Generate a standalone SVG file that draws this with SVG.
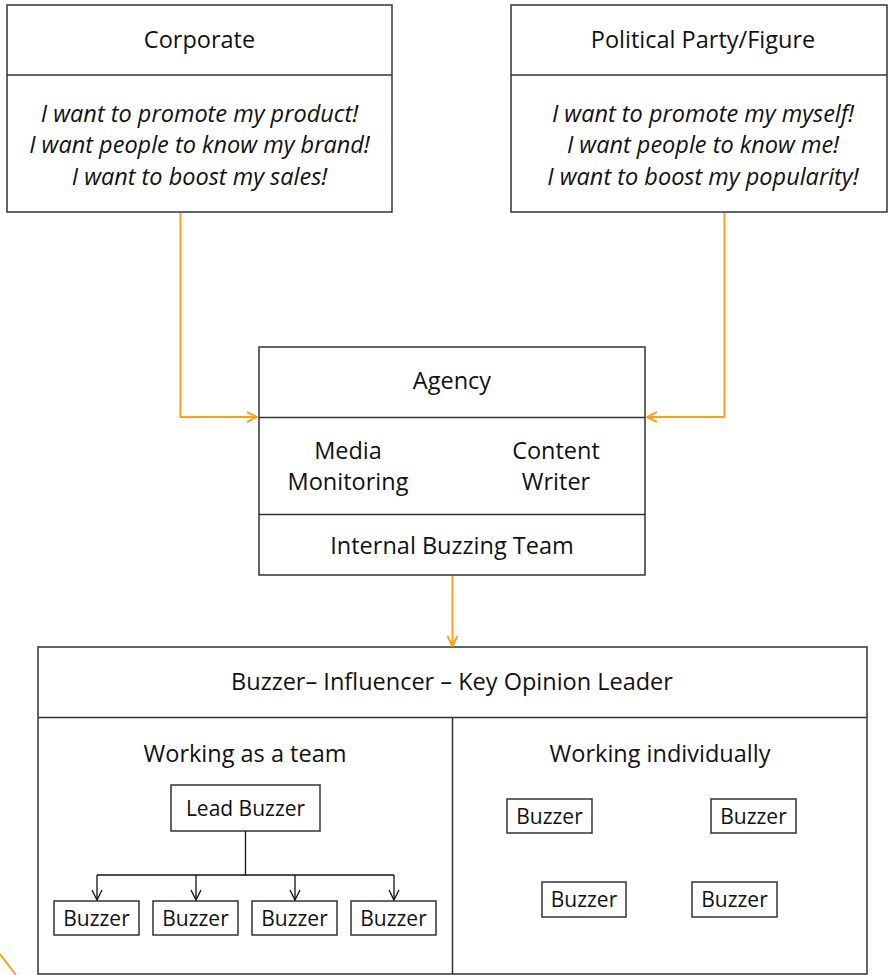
<svg xmlns="http://www.w3.org/2000/svg" width="888" height="975" viewBox="0 0 888 975">
<defs>
<style>
.box{fill:#fff;stroke:#333;stroke-width:1.5}
.ln{fill:none;stroke:#333;stroke-width:1.5}
.t{font-family:"Open Sans","Noto Sans",sans-serif;font-size:23.5px;fill:#111;text-anchor:middle}
.s{font-size:21px}
.i{font-style:italic}
.or{fill:none;stroke:#F7A21B;stroke-width:2}
.bk{fill:none;stroke:#111;stroke-width:1.3}
</style>
<marker id="ao" viewBox="0 0 12 12" refX="11" refY="6" markerWidth="12" markerHeight="12" markerUnits="userSpaceOnUse" orient="auto">
<path d="M1,1 L11,6 L1,11" fill="none" stroke="#F7A21B" stroke-width="2"/>
</marker>
<marker id="ab" viewBox="0 0 12 12" refX="11" refY="6" markerWidth="12" markerHeight="12" markerUnits="userSpaceOnUse" orient="auto">
<path d="M1,1 L11,6 L1,11" fill="none" stroke="#111" stroke-width="1.3"/>
</marker>
</defs>

<g id="corporate">
<rect class="box" x="7" y="5" width="385" height="207"/>
<path class="ln" d="M7,75 H392"/>
<text class="t" x="199.5" y="48">Corporate</text>
<text class="t i" x="199.5" y="122">I want to promote my product!</text>
<text class="t i" x="199.5" y="153">I want people to know my brand!</text>
<text class="t i" x="199.5" y="185">I want to boost my sales!</text>
</g>

<g id="political">
<rect class="box" x="511" y="5" width="376" height="207"/>
<path class="ln" d="M511,75 H887"/>
<text class="t" x="703" y="48">Political Party/Figure</text>
<text class="t i" x="703" y="122">I want to promote my myself!</text>
<text class="t i" x="703" y="153">I want people to know me!</text>
<text class="t i" x="703" y="185">I want to boost my popularity!</text>
</g>

<g id="agency">
<rect class="box" x="259" y="347" width="386" height="228"/>
<path class="ln" d="M259,417.5 H645 M259,514.5 H645"/>
<text class="t" x="452" y="389">Agency</text>
<text class="t" x="348" y="459">Media</text>
<text class="t" x="348" y="490">Monitoring</text>
<text class="t" x="556" y="459">Content</text>
<text class="t" x="556" y="490">Writer</text>
<text class="t" x="452" y="554">Internal Buzzing Team</text>
</g>

<g id="buzzer-group">
<rect class="box" x="38" y="647" width="829" height="327"/>
<path class="ln" d="M38,717.5 H867 M452.5,717.5 V974"/>
<text class="t" x="452" y="690">Buzzer– Influencer – Key Opinion Leader</text>
</g>

<g id="team">
<text class="t" x="245" y="762">Working as a team</text>
</g>

<g id="lead-buzzer">
<rect class="box" x="171" y="785" width="149" height="46"/>
<text class="t s" x="245.5" y="816">Lead Buzzer</text>
</g>

<g id="team-buzzer-1"><rect class="box" x="54" y="901" width="85" height="34"/><text class="t s" x="96.5" y="926">Buzzer</text></g>
<g id="team-buzzer-2"><rect class="box" x="153" y="901" width="85" height="34"/><text class="t s" x="195.5" y="926">Buzzer</text></g>
<g id="team-buzzer-3"><rect class="box" x="252" y="901" width="85" height="34"/><text class="t s" x="294.5" y="926">Buzzer</text></g>
<g id="team-buzzer-4"><rect class="box" x="351" y="901" width="85" height="34"/><text class="t s" x="393.5" y="926">Buzzer</text></g>

<g id="individual">
<text class="t" x="660" y="762">Working individually</text>
</g>

<g id="ind-buzzer-1"><rect class="box" x="507" y="799" width="85" height="34"/><text class="t s" x="549.5" y="824">Buzzer</text></g>
<g id="ind-buzzer-2"><rect class="box" x="711" y="799" width="85" height="34"/><text class="t s" x="753.5" y="824">Buzzer</text></g>
<g id="ind-buzzer-3"><rect class="box" x="542" y="882" width="84" height="35"/><text class="t s" x="584" y="907">Buzzer</text></g>
<g id="ind-buzzer-4"><rect class="box" x="692" y="882" width="85" height="35"/><text class="t s" x="734.5" y="907">Buzzer</text></g>

<g id="connectors">
<path class="or" d="M180.5,213 V417 H257" marker-end="url(#ao)"/>
<path class="or" d="M724.5,213 V417 H647" marker-end="url(#ao)"/>
<path class="or" d="M452.5,576 V646" marker-end="url(#ao)"/>
<path class="bk" d="M245.5,831 V875"/>
<path class="bk" d="M97,875 H394"/>
<path class="bk" d="M97,875 V900" marker-end="url(#ab)"/>
<path class="bk" d="M196,875 V900" marker-end="url(#ab)"/>
<path class="bk" d="M295,875 V900" marker-end="url(#ab)"/>
<path class="bk" d="M394,875 V900" marker-end="url(#ab)"/>
<path class="or" d="M0,954 L16,975"/>
</g>
</svg>
